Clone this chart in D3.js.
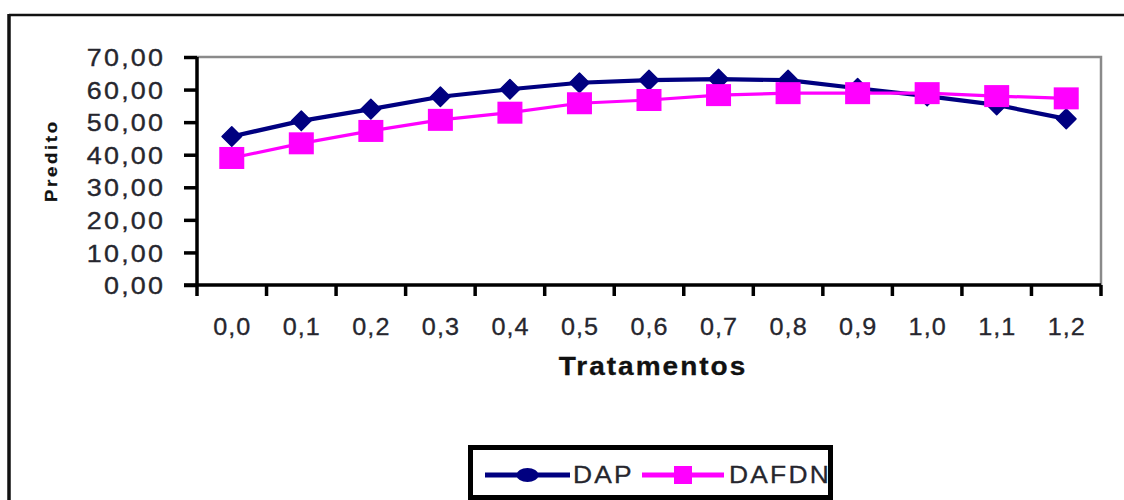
<!DOCTYPE html>
<html>
<head>
<meta charset="utf-8">
<script src="https://cdn.jsdelivr.net/npm/d3@7"></script>
<style>
  html, body { margin: 0; padding: 0; background: #fff; }
  svg { display: block; font-family: Arial, "Liberation Sans", sans-serif; }
</style>
</head>
<body>
<svg id="chart" width="1124" height="500"></svg>
<script>
// Treatment levels on the x axis
const categories = ["0,0", "0,1", "0,2", "0,3", "0,4", "0,5", "0,6", "0,7", "0,8", "0,9", "1,0", "1,1", "1,2"];
// Predicted values per treatment
const dapValues   = [45.6, 50.4, 54.0, 57.8, 60.1, 62.1, 62.9, 63.2, 62.9, 60.4, 58.0, 55.3, 51.0];
const dafdnValues = [39.0, 43.5, 47.3, 50.7, 52.9, 55.8, 56.8, 58.3, 58.9, 58.9, 58.9, 58.0, 57.3];
// Y axis ticks and their labels
const yTicks = [0, 10, 20, 30, 40, 50, 60, 70];
const yTickLabels = ["0,00", "10,00", "20,00", "30,00", "40,00", "50,00", "60,00", "70,00"];
const seriesNames = ["DAP", "DAFDN"];

const NAVY = "#000080", PINK = "#ff00ff", INK = "#26262e";

const svg = d3.select("#chart");
svg.append("rect").attr("width", 1124).attr("height", 500).attr("fill", "#fff");

// Widen text horizontally around its own anchor point
function widen(sel, sx) {
  sel.each(function () {
    const t = d3.select(this);
    const tx = +t.attr("x") || 0, ty = +t.attr("y") || 0;
    t.attr("x", 0).attr("y", 0)
      .attr("transform", `translate(${tx},${ty}) scale(${sx},1)`);
  });
}

// Outer chart frame (top and left edges visible)
svg.append("line").attr("x1", 9).attr("x2", 1124).attr("y1", 15).attr("y2", 15)
  .attr("stroke", "#111").attr("stroke-width", 2.5);
svg.append("line").attr("x1", 9).attr("x2", 9).attr("y1", 14).attr("y2", 500)
  .attr("stroke", "#111").attr("stroke-width", 3.5);

const plot = { left: 197, right: 1101, top: 57, bottom: 285 };

const x = d3.scaleBand().domain(categories).range([plot.left, plot.right]);
const y = d3.scaleLinear().domain([0, 70]).range([plot.bottom, plot.top]);
const cx = c => x(c) + x.bandwidth() / 2;

// Plot area border (top/right in grey)
svg.append("path")
  .attr("d", `M${plot.left},${plot.top}H${plot.right}V${plot.bottom}`)
  .attr("fill", "none").attr("stroke", "#8a8a8a").attr("stroke-width", 2.5);

// Y axis
const yAxis = svg.append("g").attr("transform", `translate(${plot.left},0)`)
  .call(d3.axisLeft(y).tickValues(yTicks).tickSize(13).tickPadding(21)
    .tickFormat((d, i) => yTickLabels[i]));
yAxis.select(".domain").attr("stroke", "#000").attr("stroke-width", 3.5)
  .attr("d", `M0,${plot.top}V${plot.bottom}`);
yAxis.selectAll(".tick line").attr("stroke", "#000").attr("stroke-width", 3.5);
yAxis.selectAll(".tick text")
  .attr("font-size", 24).attr("fill", INK).attr("stroke", INK).attr("stroke-width", 0.35)
  .attr("letter-spacing", "2px").attr("dx", 2).attr("dy", "0.36em");
widen(yAxis.selectAll(".tick text"), 1.12);

// X axis: labels centred in each band, ticks on band boundaries
const xAxis = svg.append("g").attr("transform", `translate(0,${plot.bottom})`)
  .call(d3.axisBottom(x).tickSize(0).tickPadding(0));
xAxis.select(".domain").attr("stroke", "#000").attr("stroke-width", 3.5)
  .attr("d", `M${plot.left - 13},0H${plot.right}`);
xAxis.selectAll(".tick text")
  .attr("font-size", 24).attr("fill", INK).attr("stroke", INK).attr("stroke-width", 0.3)
  .attr("letter-spacing", "1px").attr("dx", 0.5)
  .attr("y", 50).attr("dy", 0);
widen(xAxis.selectAll(".tick text"), 1.05);
const boundaries = categories.map(c => x(c)).concat([plot.right]);
xAxis.selectAll(".bound").data(boundaries).join("line")
  .attr("class", "bound")
  .attr("x1", d => d).attr("x2", d => d).attr("y1", 0).attr("y2", 11)
  .attr("stroke", "#000").attr("stroke-width", 3.5);

// Axis titles
const xTitle = svg.append("text")
  .attr("x", 652).attr("y", 375).attr("text-anchor", "middle")
  .attr("font-size", 25).attr("font-weight", "bold").attr("fill", "#111")
  .attr("stroke", "#111").attr("stroke-width", 0.3)
  .attr("letter-spacing", "1.8px").attr("dx", 0.9)
  .text("Tratamentos");
widen(xTitle, 1.12);
svg.append("text")
  .attr("transform", "translate(57,162) rotate(-90) scale(1.1,1)")
  .attr("text-anchor", "middle")
  .attr("font-size", 17).attr("font-weight", "bold").attr("fill", "#111")
  .attr("stroke", "#111").attr("stroke-width", 0.25)
  .attr("letter-spacing", "2.4px").attr("dx", 1.2)
  .text("Predito");

// Series lines
const line = d3.line().x((d, i) => cx(categories[i])).y(d => y(d));
svg.append("path").datum(dapValues).attr("d", line)
  .attr("fill", "none").attr("stroke", NAVY).attr("stroke-width", 4.2).attr("stroke-linejoin", "round");
svg.append("path").datum(dafdnValues).attr("d", line)
  .attr("fill", "none").attr("stroke", PINK).attr("stroke-width", 3.2).attr("stroke-linejoin", "round");

// DAP markers: diamonds
const diamond = d3.symbol().type(d3.symbolSquare).size(190);
svg.append("g").selectAll("path").data(dapValues).join("path")
  .attr("d", diamond)
  .attr("transform", (d, i) => `translate(${cx(categories[i])},${y(d)}) rotate(45)`)
  .attr("fill", NAVY).attr("stroke", NAVY).attr("stroke-width", 1.5).attr("stroke-linejoin", "round");

// DAFDN markers: squares
svg.append("g").selectAll("rect").data(dafdnValues).join("rect")
  .attr("x", (d, i) => cx(categories[i]) - 12.5).attr("y", d => y(d) - 11)
  .attr("width", 25).attr("height", 22)
  .attr("fill", PINK);

// Legend
const lg = svg.append("g");
lg.append("rect").attr("x", 470.5).attr("y", 447.5).attr("width", 360).attr("height", 50)
  .attr("fill", "#fff").attr("stroke", "#000").attr("stroke-width", 5);
const legendItems = [
  { name: seriesNames[0], color: NAVY, x0: 485, x1: 570, tx: 573 },
  { name: seriesNames[1], color: PINK, x0: 642, x1: 724, tx: 729 }
];
legendItems.forEach((it, k) => {
  const mid = (it.x0 + it.x1) / 2;
  lg.append("line").attr("x1", it.x0).attr("x2", it.x1).attr("y1", 475).attr("y2", 475)
    .attr("stroke", it.color).attr("stroke-width", 5);
  if (k === 0) {
    lg.append("ellipse").attr("cx", mid).attr("cy", 475).attr("rx", 11).attr("ry", 7)
      .attr("fill", it.color);
  } else {
    lg.append("rect").attr("x", mid - 9).attr("y", 466).attr("width", 18).attr("height", 18)
      .attr("fill", it.color);
  }
  const t = lg.append("text").attr("x", it.tx).attr("y", 483)
    .attr("font-size", 24).attr("fill", INK).attr("stroke", INK).attr("stroke-width", 0.3)
    .attr("letter-spacing", "2px")
    .text(it.name);
  widen(t, 1.1);
});
</script>
</body>
</html>
